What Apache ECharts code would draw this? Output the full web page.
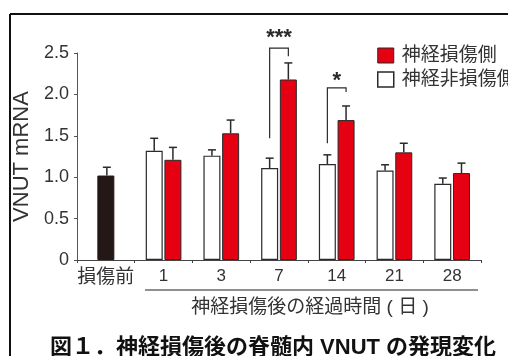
<!DOCTYPE html>
<html><head><meta charset="utf-8">
<script src="https://cdn.jsdelivr.net/npm/echarts@6/dist/echarts.min.js"></script>
<style>html,body{margin:0;padding:0;background:#fff}#c{width:508px;height:356px}</style>
</head><body><div id="c"></div>
<script>
// ---- data ----
const categories = ['損傷前', '1', '3', '7', '14', '21', '28'];
const yTicks = [0, 0.5, 1.0, 1.5, 2.0, 2.5];
const preMean  = [1.02, null, null, null, null, null, null];
const preUpper = [1.12, null, null, null, null, null, null];
const intactMean  = [null, 1.32, 1.26, 1.11, 1.16, 1.08, 0.92];
const intactUpper = [null, 1.47, 1.33, 1.23, 1.27, 1.15, 0.99];
const injuredMean  = [null, 1.21, 1.53, 2.18, 1.69, 1.30, 1.05];
const injuredUpper = [null, 1.36, 1.69, 2.38, 1.86, 1.41, 1.17];
const sigCats = [3, 4];
const sigLabels = ['***', '*'];
const sigTop = [2.56, 2.08];
const sigLeftEnd = [1.47, 1.41];
const sigRightEnd = [2.46, 2.03];
const sigTextPos = [2.68, 2.16];
const seriesNames = ['神経損傷側', '神経非損傷側'];
const xGroupTitle = '神経損傷後の経過時間 ( 日 )';
const figTitle = '図１．神経損傷後の脊髄内 VNUT の発現変化';

// ---- style ----
const FONT = "'Liberation Sans', 'Noto Sans CJK JP', sans-serif";
const RED = '#e50012', INK = '#2a2a2a', BLACK = '#231815';
const BW = 17, HALF = 9.35;

function errData(mean, upper) {
  const out = [];
  mean.forEach((m, i) => { if (m != null) out.push([i, m, upper[i]]); });
  return out;
}
function errSeries(mean, upper, offset, axisIdx) {
  return {
    type: 'custom', xAxisIndex: axisIdx, z: 5, silent: true, clip: false,
    data: errData(mean, upper),
    renderItem(params, api) {
      const b = api.coord([api.value(0), api.value(1)]);
      const t = api.coord([api.value(0), api.value(2)]);
      const cx = b[0] + offset;
      const st = { stroke: INK, lineWidth: 1.5 };
      return { type: 'group', children: [
        { type: 'line', shape: { x1: cx, y1: b[1], x2: cx, y2: t[1] }, style: st },
        { type: 'line', shape: { x1: cx - 4, y1: t[1], x2: cx + 4, y2: t[1] }, style: st }
      ]};
    }
  };
}

const chart = echarts.init(document.getElementById('c'), null, { renderer: 'canvas' });
const option = {
  backgroundColor: '#fff',
  animation: false,
  textStyle: { fontFamily: FONT },
  grid: { left: 77, right: 27, top: 53, bottom: 96, containLabel: false },
  legend: {
    orient: 'vertical', left: 372, top: 41, itemWidth: 16, itemHeight: 15, itemGap: 5,
    icon: 'rect',
    textStyle: { fontSize: 19, color: '#333', fontFamily: FONT, padding: [0, 0, 0, 3] },
    data: [
      { name: seriesNames[0], itemStyle: { color: RED, borderColor: INK, borderWidth: 1 } },
      { name: seriesNames[1], itemStyle: { color: '#fff', borderColor: INK, borderWidth: 1.5 } }
    ]
  },
  xAxis: [{
    type: 'category', data: categories,
    axisLine: { lineStyle: { color: '#444', width: 1.2 } },
    axisTick: { show: true, length: 3, interval: 0, lineStyle: { color: '#444' } },
    axisLabel: {
      interval: 0, margin: 8, color: '#333', fontSize: 17, fontFamily: FONT,
      formatter: (v, i) => i === 0 ? '{c|' + v + '}' : v,
      rich: { c: { fontSize: 19, fontFamily: FONT, color: '#333' } }
    }
  }, {
    type: 'category', data: categories, show: false, position: 'bottom'
  }],
  yAxis: {
    type: 'value', min: 0, max: 2.5, interval: 0.5,
    name: 'VNUT mRNA', nameLocation: 'middle', nameRotate: 90, nameGap: 39,
    nameTextStyle: { fontSize: 22, color: '#333', fontFamily: FONT },
    axisLine: { show: true, lineStyle: { color: '#555', width: 1 } },
    axisTick: { show: true, length: 3, lineStyle: { color: '#555' } },
    splitLine: { show: false },
    axisLabel: {
      margin: 8, color: '#333', fontSize: 18, fontFamily: FONT,
      formatter: v => (yTicks.indexOf(v) >= 0 ? (v === 0 ? '0' : v.toFixed(1)) : '')
    }
  },
  series: [
    {
      name: seriesNames[1], type: 'bar', xAxisIndex: 0, barWidth: BW, barGap: '10%',
      itemStyle: { color: '#fff', borderColor: INK, borderWidth: 1.2 },
      data: intactMean.map(v => v == null ? '-' : v)
    },
    {
      name: seriesNames[0], type: 'bar', xAxisIndex: 0, barWidth: BW, barGap: '10%',
      itemStyle: { color: RED, borderColor: INK, borderWidth: 1 },
      data: injuredMean.map(v => v == null ? '-' : v)
    },
    {
      name: 'pre', type: 'bar', xAxisIndex: 1, barWidth: BW,
      itemStyle: { color: BLACK, borderColor: BLACK, borderWidth: 1 },
      data: preMean.map(v => v == null ? '-' : v)
    },
    errSeries(intactMean, intactUpper, -HALF, 0),
    errSeries(injuredMean, injuredUpper, HALF, 0),
    errSeries(preMean, preUpper, 1, 1),
    {
      type: 'custom', xAxisIndex: 0, z: 6, silent: true, clip: false,
      data: sigCats.map((c, i) => [c, sigTop[i], sigLeftEnd[i], sigRightEnd[i], sigTextPos[i], i]),
      renderItem(params, api) {
        const c = api.value(0);
        const top = api.coord([c, api.value(1)]);
        const l = api.coord([c, api.value(2)]);
        const r = api.coord([c, api.value(3)]);
        const tp = api.coord([c, api.value(4)]);
        const xl = top[0] - HALF, xr = top[0] + HALF;
        const st = { stroke: INK, lineWidth: 1.2, fill: null };
        return { type: 'group', children: [
          { type: 'polyline', shape: { points: [[xl, l[1]], [xl, top[1]], [xr, top[1]], [xr, r[1]]] }, style: st },
          { type: 'text', style: { text: sigLabels[api.value(5)], x: top[0], y: tp[1], align: 'center', verticalAlign: 'middle',
              font: 'bold 22px ' + FONT, fill: INK } }
        ]};
      }
    }
  ],
  graphic: [
    { type: 'line', shape: { x1: 10, y1: 14, x2: 520, y2: 14 }, style: { stroke: '#111', lineWidth: 2 } },
    { type: 'line', shape: { x1: 10, y1: 14, x2: 10, y2: 380 }, style: { stroke: '#111', lineWidth: 2 } },
    { type: 'line', shape: { x1: 145, y1: 290, x2: 478, y2: 290 }, style: { stroke: '#222', lineWidth: 1.2 } },
    { type: 'text', style: { text: xGroupTitle, x: 310, y: 308, align: 'center', verticalAlign: 'middle',
        font: '19px ' + FONT, fill: '#333' } },
    { type: 'text', style: { text: figTitle, x: 50, y: 348, align: 'left', verticalAlign: 'middle',
        font: 'bold 22px ' + FONT, fill: '#111' } }
  ]
};
chart.setOption(option);
</script></body></html>
